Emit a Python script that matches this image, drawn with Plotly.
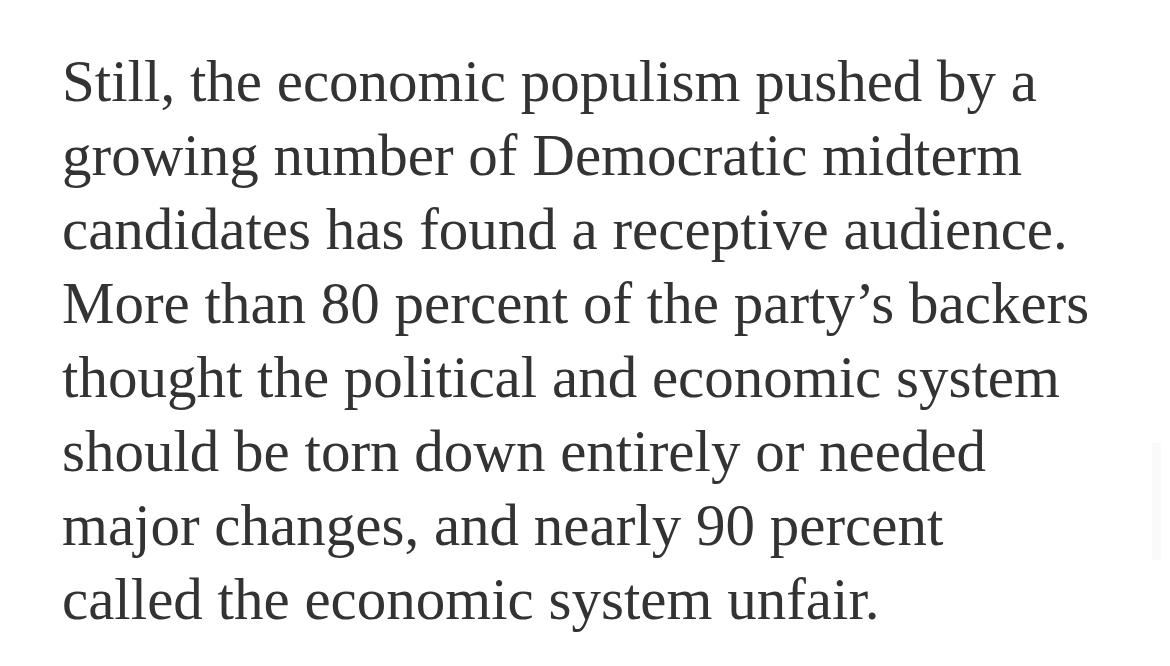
import plotly.graph_objects as go

# Text content (one entry per rendered line)
lines = [
    "Still, the economic populism pushed by a",
    "growing number of Democratic midterm",
    "candidates has found a receptive audience.",
    "More than 80 percent of the party\u2019s backers",
    "thought the political and economic system",
    "should be torn down entirely or needed",
    "major changes, and nearly 90 percent",
    "called the economic system unfair.",
]

W, H = 1170, 666
FONT_SIZE = 59
LEFT = 62
FIRST_BASELINE = 101
LINE_STEP = 74
TEXT_COLOR = "#333333"

fig = go.Figure()
for i, line in enumerate(lines):
    fig.add_annotation(
        x=LEFT, y=FIRST_BASELINE + i * LINE_STEP,
        xref="x", yref="y",
        text=line, showarrow=False,
        xanchor="left", yanchor="bottom",
        borderpad=0, borderwidth=0,
        yshift=-0.22 * FONT_SIZE,
        font=dict(family="Liberation Serif", size=FONT_SIZE, color=TEXT_COLOR),
    )

fig.add_shape(type="rect", xref="x", yref="y", x0=1152, x1=1161, y0=443, y1=560,
              fillcolor="#fafafa", line=dict(width=0), layer="below")

fig.update_layout(
    width=W, height=H,
    margin=dict(l=0, r=0, t=0, b=0),
    paper_bgcolor="white", plot_bgcolor="white",
    xaxis=dict(range=[0, W], visible=False, fixedrange=True),
    yaxis=dict(range=[H, 0], visible=False, fixedrange=True),
)

fig.write_html(
    "out.html",
    config={"displayModeBar": False},
    post_script="document.body.style.margin='0';document.body.style.padding='0';",
)
